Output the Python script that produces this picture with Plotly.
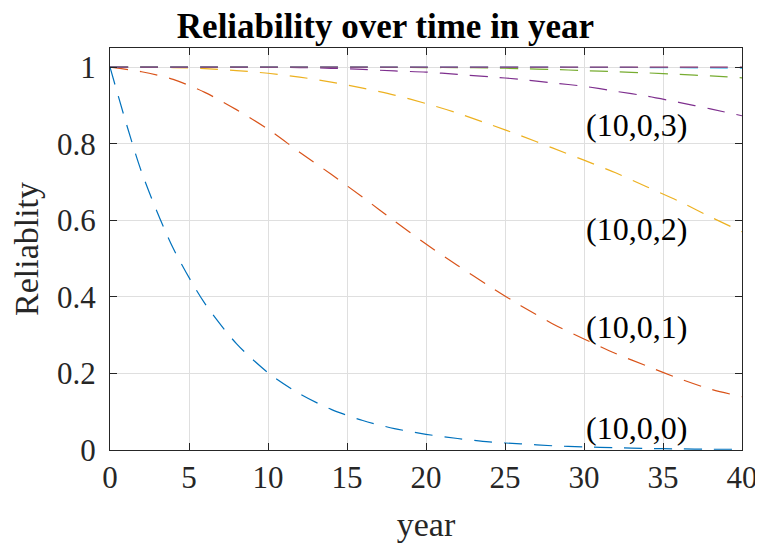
import plotly.graph_objects as go

years = [0, 2, 4, 6, 8, 10, 12, 14, 16, 18, 20, 22, 24, 26, 28, 30, 32, 34, 36, 38, 40]

r_10_0_0 = [1.0, 0.726, 0.527, 0.383, 0.278, 0.202, 0.147, 0.106, 0.077, 0.056, 0.041,
            0.030, 0.021, 0.016, 0.011, 0.008, 0.006, 0.004, 0.003, 0.002, 0.002]
r_10_0_1 = [1.0, 0.988, 0.968, 0.934, 0.889, 0.838, 0.778, 0.720, 0.660, 0.598, 0.538,
            0.482, 0.428, 0.377, 0.330, 0.290, 0.252, 0.219, 0.187, 0.159, 0.139]
r_10_0_2 = [1.0, 1.0, 0.999, 0.996, 0.991, 0.984, 0.974, 0.961, 0.945, 0.927, 0.905,
            0.880, 0.851, 0.821, 0.789, 0.757, 0.724, 0.687, 0.650, 0.609, 0.570]
r_10_0_3 = [1.0, 1.0, 1.0, 1.0, 1.0, 0.9995, 0.999, 0.997, 0.994, 0.990, 0.987,
            0.981, 0.975, 0.968, 0.959, 0.950, 0.937, 0.924, 0.908, 0.891, 0.873]
r_10_0_4 = [1.0, 1.0, 1.0, 1.0, 1.0, 1.0, 1.0, 1.0, 1.0, 0.9995, 0.999,
            0.999, 0.998, 0.996, 0.994, 0.991, 0.988, 0.985, 0.981, 0.977, 0.972]
r_10_0_5 = [1.0, 1.0, 1.0, 1.0, 1.0, 1.0, 1.0, 1.0, 1.0, 1.0, 1.0,
            1.0, 1.0, 1.0, 1.0, 0.9995, 0.9993, 0.999, 0.9985, 0.998, 0.997]
r_10_0_6 = [1.0] * 21

series = [r_10_0_0, r_10_0_1, r_10_0_2, r_10_0_3, r_10_0_4, r_10_0_5, r_10_0_6]
colors = ["#0072BD", "#D95319", "#EDB120", "#7E2F8E", "#77AC30", "#4DBEEE", "#8C2F6A"]

label_texts = ["(10,0,0)", "(10,0,1)", "(10,0,2)", "(10,0,3)"]
label_x = [30, 30, 30, 30]
label_y = [0.058, 0.322, 0.578, 0.848]

xticks = [0, 5, 10, 15, 20, 25, 30, 35, 40]
yticks = [0, 0.2, 0.4, 0.6, 0.8, 1]
ytick_text = ["0", "0.2", "0.4", "0.6", "0.8", "1"]

FONT = "Liberation Serif, Times New Roman, serif"

fig = go.Figure()
for vals, col in zip(series, colors):
    fig.add_trace(go.Scatter(
        x=years, y=vals, mode="lines",
        line=dict(color=col, width=1.2, dash="18px,12px", shape="spline", smoothing=0.8),
        showlegend=False, hoverinfo="skip"))

for txt, lx, ly in zip(label_texts, label_x, label_y):
    fig.add_annotation(x=lx, y=ly, text=txt, showarrow=False, xanchor="left",
                       yanchor="middle", xshift=0,
                       font=dict(family=FONT, size=32, color="#000000"))

axis_common = dict(
    showline=True, linecolor="#262626", linewidth=1.2, mirror="ticks",
    ticks="inside", ticklen=7, tickcolor="#262626", tickwidth=1.2,
    showgrid=True, gridcolor="#dfdfdf", gridwidth=1.2, zeroline=False,
    tickfont=dict(family=FONT, size=31, color="#262626"),
    ticklabeloverflow="allow",
)

fig.update_xaxes(range=[0, 40], tickvals=xticks, ticktext=[str(v) for v in xticks],
                 automargin=False,
                 title=dict(text="year", font=dict(family=FONT, size=34, color="#262626"),
                            standoff=17),
                 **axis_common)
fig.update_yaxes(range=[0, 1.05], tickvals=yticks, ticktext=ytick_text,
                 ticklabelstandoff=7,
                 title=dict(text="Reliablity", font=dict(family=FONT, size=34, color="#262626"),
                            standoff=10),
                 **axis_common)

# page body has an 8px margin, so the figure is shifted by 8px
fig.update_layout(
    width=755, height=537,
    margin=dict(l=102, r=21, t=40, b=95),
    plot_bgcolor="white", paper_bgcolor="white",
    title=dict(text="<b>Reliability over time in year</b>", x=0.5, xanchor="center",
               y=0.99, yanchor="top",
               font=dict(family=FONT, size=35, color="#000000")),
)

fig.write_html("out.html")
